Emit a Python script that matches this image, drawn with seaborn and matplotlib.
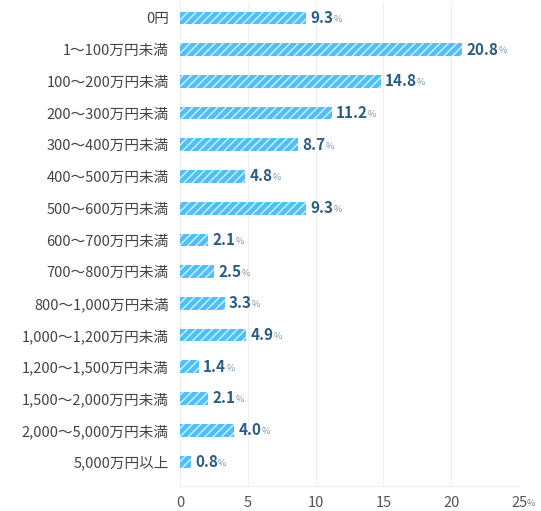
import numpy as np
import pandas as pd
import matplotlib
matplotlib.use('Agg')
import matplotlib.pyplot as plt
import seaborn as sns

categories = ['0円', '1～100万円未満', '100～200万円未満', '200～300万円未満',
              '300～400万円未満', '400～500万円未満', '500～600万円未満',
              '600～700万円未満', '700～800万円未満', '800～1,000万円未満',
              '1,000～1,200万円未満', '1,200～1,500万円未満', '1,500～2,000万円未満',
              '2,000～5,000万円未満', '5,000万円以上']
values = [9.3, 20.8, 14.8, 11.2, 8.7, 4.8, 9.3, 2.1, 2.5, 3.3, 4.9, 1.4, 2.1, 4.0, 0.8]
xticks = [0, 5, 10, 15, 20, 25]

sns.set_style('white')
plt.rcParams['font.family'] = ['Noto Sans CJK JP', 'DejaVu Sans']
plt.rcParams['hatch.linewidth'] = 1.1

df = pd.DataFrame({'cat': categories, 'val': values})

fig = plt.figure(figsize=(5.41, 5.11), dpi=100)
ax = fig.add_axes([180 / 541, 1 - 486 / 511, 339 / 541, 484 / 511])

sns.barplot(data=df, x='val', y='cat', orient='h', color='#4fbff7',
            saturation=1, width=0.4, ax=ax)
for p in ax.patches:
    p.set_hatch('////')
    p.set_edgecolor('#c9ecfd')
    p.set_linewidth(0)

ax.set_xlim(0, 25)
ax.set_ylim(14.76, -0.5)
ax.set_xticks(xticks)
ax.set_xticklabels([str(t) for t in xticks], color='#555555', fontsize=10.5)
ax.tick_params(axis='x', length=0, pad=7)
ax.tick_params(axis='y', length=0, pad=8, labelsize=10.5, labelcolor='#444444')
ax.set_xlabel('')
ax.set_ylabel('')
ax.grid(axis='x', color='#f0f0f0', linewidth=0.8)
ax.set_axisbelow(True)
for s in ['top', 'right', 'left']:
    ax.spines[s].set_visible(False)
ax.spines['bottom'].set_color('#eeeeee')

# value labels: bold number + small %
for i, v in enumerate(values):
    t = ax.annotate(f'{v:.1f}', xy=(v, i), xytext=(3, 0), textcoords='offset points',
                    va='center', ha='left', fontsize=11, fontweight='bold',
                    color='#2a5d82')
    ax.annotate('%', xy=(1, 0), xycoords=t, xytext=(0, 1.5), textcoords='offset points',
                va='bottom', ha='left', fontsize=6.5, color='#7a98ad')

# small % after the last tick
lbl = ax.get_xticklabels()[-1]
fig.canvas.draw()
ax.annotate('%', xy=(1, 0), xycoords=lbl, xytext=(0, 1.5), textcoords='offset points',
            va='bottom', ha='left', fontsize=6.5, color='#777777')

fig.savefig('out.png', dpi=100)
